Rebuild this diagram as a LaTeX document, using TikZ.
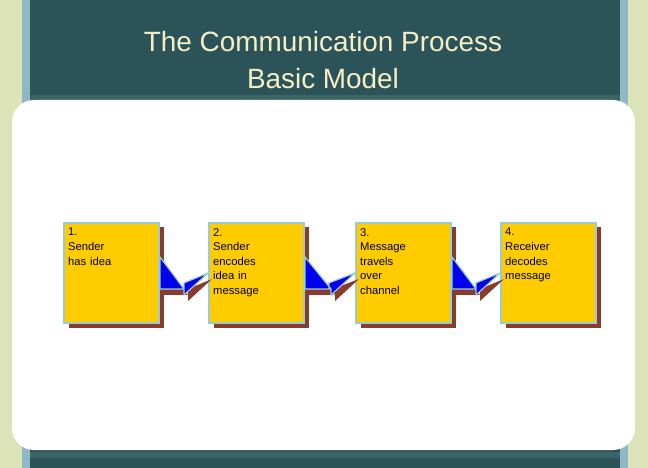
\documentclass[tikz,border=0pt]{standalone}
\usepackage{fontspec}
\setmainfont{Liberation Sans}
\usetikzlibrary{positioning}
\definecolor{slidebg}{HTML}{2C5458}
\definecolor{bandbg}{HTML}{3B6466}
\definecolor{creamcol}{HTML}{DDE3B8}
\definecolor{edgeblue}{HTML}{8FB8C4}
\definecolor{titlecol}{HTML}{F5EFC8}
\definecolor{boxfill}{HTML}{FFCC00}
\definecolor{boxedge}{HTML}{99CCCC}
\definecolor{shadowcol}{HTML}{8B3A2E}
\definecolor{arrowblue}{HTML}{0000EE}
\newcommand{\boxw}{95}
\newcommand{\boxh}{100}

\tikzset{
  stage/.style={draw=boxedge, line width=2bp, fill=boxfill, minimum width=\boxw bp,
    minimum height=\boxh bp, anchor=north west, inner sep=0pt},
  stagetext/.style={anchor=north west, align=left, font=\fontsize{11.3}{14.6}\selectfont,
    inner sep=0pt, text width=90bp},
  shadow/.style={fill=shadowcol}
}

\begin{document}
\begin{tikzpicture}[x=1bp, y=-1bp]
        \useasboundingbox (0,0) rectangle (648,468);
        % background
        \fill[slidebg] (0,0) rectangle (648,468);
        \fill[bandbg] (0,95) rectangle (648,106);
        \fill[bandbg] (0,452) rectangle (648,458);
        \fill[creamcol] (0,0) rectangle (22,468);
        \fill[edgeblue] (22,0) rectangle (30,468);
        \fill[edgeblue] (620,0) rectangle (628,468);
        \fill[creamcol] (628,0) rectangle (648,468);
        \fill[white, rounded corners=22bp] (12,100) rectangle (635,450);

        % title
        \node[text=titlecol, font=\fontsize{28}{37.5}\selectfont, align=center] (title)
          at (323,60) {The Communication Process\\Basic Model};

        % boxes
        \foreach \x/\name/\txt in {63/s1/{1.\\Sender\\has idea},
                                   208/s2/{2.\\Sender\\encodes\\idea in\\message},
                                   355/s3/{3.\\Message\\travels\\over\\channel},
                                   500/s4/{4.\\Receiver\\decodes\\message}} {
          \fill[shadow] (\x+6,227) rectangle (\x+\boxw+6,\boxh+228);
          \node[stage] (\name) at (\x,222) {};
          \node[stagetext] (\name txt) at (\x+5,228) {\txt};
        }

        % arrows
        \foreach \a/\b in {s1/s2, s2/s3, s3/s4} {
          \fill[shadow, transform canvas={xshift=4bp, yshift=-6bp}] ([yshift=-16]\a.east) -- ++(24,0) -- ++(0,-6)
            -- (\b.west) -- ++(-24,22) -- ++(0,-6) -- ([yshift=16]\a.east) -- cycle;
          \draw[boxedge, fill=arrowblue, line width=1.2bp] ([yshift=-16]\a.east) -- ++(24,0) -- ++(0,-6)
            -- (\b.west) -- ++(-24,22) -- ++(0,-6) -- ([yshift=16]\a.east) -- cycle;
        }
    \end{tikzpicture}
\end{document}
